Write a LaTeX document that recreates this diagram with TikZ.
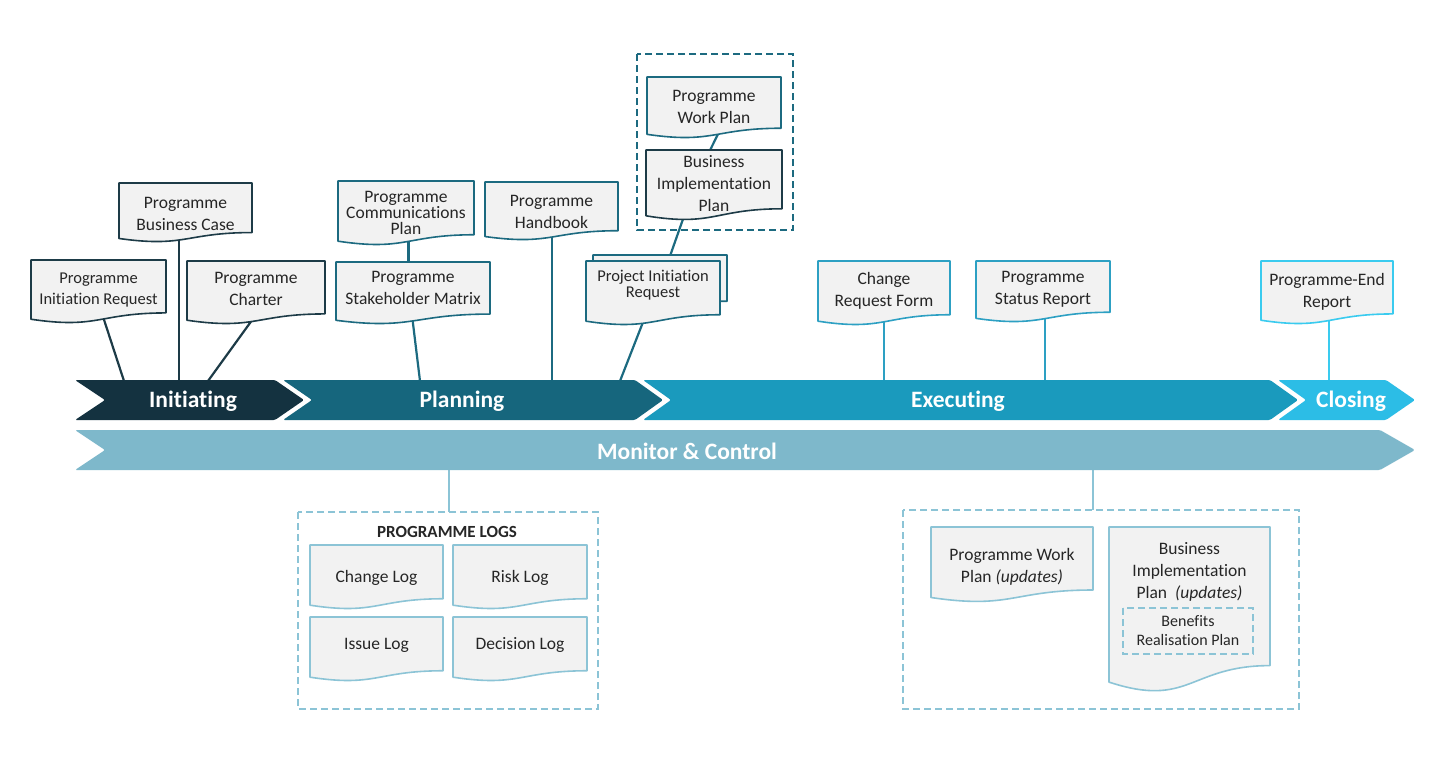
\documentclass[tikz,border=0pt]{standalone}
\usepackage{fontspec}
\setmainfont{Carlito}[Ligatures=NoCommon]
\usetikzlibrary{calc,fit}
\definecolor{cInit}{HTML}{143240}
\definecolor{cPlan}{HTML}{16667D}
\definecolor{cExec}{HTML}{1A9ABD}
\definecolor{cClose}{HTML}{2CBDE6}
\definecolor{cMon}{HTML}{7EB8CB}
\definecolor{cInitB}{HTML}{1D3B47}
\definecolor{cPlanB}{HTML}{1C6A80}
\definecolor{cExecB}{HTML}{2DA0C3}
\definecolor{cCloseB}{HTML}{3ACBEF}
\definecolor{cLogB}{HTML}{8CC4D6}
\definecolor{docfill}{HTML}{F2F2F2}
\definecolor{txt}{HTML}{262626}
\pgfdeclarelayer{bg}
\pgfdeclarelayer{lines}
\pgfsetlayers{bg,lines,main}
\tikzset{
  boxarea/.style={inner sep=0pt, outer sep=0pt},
  doctext/.style={align=center, inner sep=0pt, text=txt, font=\fontsize{17.5}{22}\selectfont},
  phase/.style={text=white, inner sep=0pt, font=\bfseries\fontsize{23.5}{26}\selectfont},
  chev/.style={rounded corners=1.5pt},
  conn/.style={line width=2.2pt},
  dbox/.style={dashed, line width=1.5pt, dash pattern=on 7pt off 4pt},
}
\newcommand\docshape[2]{%
  \filldraw[fill=docfill, draw=#2, line width=1.6pt, line join=round]
   (#1.north west) -- (#1.north east) -- ($(#1.north east)!0.84!(#1.south east)$)
   .. controls ($(#1.north)!0.84!(#1.south)$) and ($(#1.north)!1.10!(#1.south)$) ..
   ($(#1.north west)!0.94!(#1.south west)$) -- cycle;
}
% name, x0, y0, x1, y1, colour, text options, text
\newcommand\doc[8]{%
  \node[boxarea, fit={(#2,#3)(#4,#5)}] (#1) {};
  \docshape{#1}{#6}
  \node[doctext,#7] (#1-t) at ($(#1.north)!0.47!(#1.south)$) {#8};
}
\begin{document}
\begin{tikzpicture}[x=1pt,y=-1pt]
\begin{pgfonlayer}{bg}
  \fill[white] (0,0) rectangle (1453,761);
\end{pgfonlayer}
\useasboundingbox (0,0) rectangle (1453,761);

% phases
\fill[cInit,chev] (75,380) -- (275,380) -- (304,400) -- (275,420) -- (75,420) -- (105,400) -- cycle;
\fill[cPlan,chev] (283,380) -- (635,380) -- (663,400) -- (635,420) -- (283,420) -- (312,400) -- cycle;
\fill[cExec,chev] (643,380) -- (1270,380) -- (1298,400) -- (1270,420) -- (643,420) -- (671,400) -- cycle;
\fill[cClose,chev] (1278,380) -- (1386,380) -- (1415,400) -- (1386,420) -- (1278,420) -- (1306,400) -- cycle;
\fill[cMon,chev] (75,430) -- (1380,430) -- (1415,450) -- (1380,470) -- (75,470) -- (105,450) -- cycle;
\node[phase] (tInit) at (193,401) {Initiating};
\node[phase] (tPlan) at (462,401) {Planning};
\node[phase] (tExec) at (958,401) {Executing};
\node[phase] (tClose) at (1351,401) {Closing};
\node[phase] (tMon) at (687,451) {Monitor \& Control};

% bar coordinates
\coordinate (b1) at (124,381);
\coordinate (b2) at (179,381);
\coordinate (b3) at (208,381);
\coordinate (b4) at (420,381);
\coordinate (b5) at (552,381);
\coordinate (b6) at (620,381);
\coordinate (b7) at (884,381);
\coordinate (b8) at (1045,381);
\coordinate (b9) at (1329,381);
\coordinate (m1) at (449,465);
\coordinate (m2) at (1093,465);

% documents
\doc{ireq}{31}{260}{166}{323}{cInitB}{font=\fontsize{16.5}{21}\selectfont}{Programme\\Initiation Request}
\doc{bcase}{119}{183}{252}{242}{cInitB}{yshift=-3pt}{Programme\\Business Case}
\doc{charter}{187}{261}{325}{324}{cInitB}{yshift=2pt}{Programme\\Charter}
\doc{comms}{338}{181}{474}{245}{cPlanB}{font=\fontsize{17.5}{16}\selectfont, yshift=-2pt}{Programme\\Communications\\Plan}
\doc{stake}{336}{262}{490}{324}{cPlanB}{yshift=3pt}{Programme\\Stakeholder Matrix}
\doc{handbook}{485}{182}{618}{240}{cPlanB}{yshift=-3pt}{Programme\\Handbook}
\doc{pirb}{593}{255}{727}{310}{cPlanB}{}{}
\doc{pir}{586}{261}{720}{325}{cPlanB}{font=\fontsize{16.5}{16}\selectfont, yshift=6pt}{Project Initiation\\Request}
\node[boxarea, fit={(637,54)(793,230)}] (topbox) {};
\draw[cPlanB, dbox] (topbox.north west) rectangle (topbox.south east);
\doc{wplan}{647}{77}{781}{138}{cPlanB}{yshift=-1pt}{Programme\\Work Plan}
\doc{bip}{646}{150}{782}{220}{cInitB}{yshift=-0.5pt}{Business\\Implementation\\Plan}
\doc{creq}{818}{261}{950}{325}{cExecB}{}{Change\\Request Form}
\doc{status}{976}{261}{1110}{322}{cExecB}{}{Programme\\Status Report}
\doc{endrep}{1261}{261}{1393}{324}{cCloseB}{yshift=-1pt}{Programme-End\\Report}

% logs
\node[boxarea, fit={(298,512)(598,709)}] (logs) {};
\draw[cLogB, dbox] (logs.north west) rectangle (logs.south east);
\node[doctext, font=\bfseries\fontsize{17}{20}\selectfont] (logs-t) at (447,532) {PROGRAMME LOGS};
\doc{chlog}{310}{545}{443}{609}{cLogB}{yshift=-3pt}{Change Log}
\doc{risklog}{453}{545}{587}{609}{cLogB}{yshift=-3pt}{Risk Log}
\doc{issuelog}{310}{617}{443}{681}{cLogB}{yshift=2pt}{Issue Log}
\doc{declog}{453}{617}{587}{681}{cLogB}{yshift=2pt}{Decision Log}

% updates
\node[boxarea, fit={(903,510)(1299,709)}] (upd) {};
\draw[cLogB, dbox] (upd.north west) rectangle (upd.south east);
\doc{wpu}{931}{527}{1093}{602}{cLogB}{yshift=-5pt}{Programme Work\\Plan \textit{(updates)}}
\doc{bipu}{1109}{527}{1270}{692}{cLogB}{yshift=33pt}{Business\\Implementation\\Plan~~\textit{(updates)}}
\node[boxarea, fit={(1123,608)(1253,654)}] (ben) {};
\draw[cLogB, dbox] (ben.north west) rectangle (ben.south east);
\node[doctext, font=\fontsize{16}{19}\selectfont] (ben-t) at (ben.center) {Benefits\\Realisation Plan};

% connectors
\begin{pgfonlayer}{lines}
\draw[conn, cInitB] ([xshift=-3.7pt]ireq.center) -- (b1);
\draw[conn, cInitB] ([xshift=-6.5pt]bcase.center) -- (b2);
\draw[conn, cInitB] ([xshift=16pt]charter.center) -- (b3);
\draw[conn, cPlanB] ([xshift=2.5pt]comms.center) -- ([xshift=-4.5pt]stake.center);
\draw[conn, cPlanB] ([xshift=-3.7pt]stake.center) -- (b4);
\draw[conn, cPlanB] ([xshift=0.5pt]handbook.center) -- (b5);
\draw[conn, cPlanB] ([xshift=1.4pt]pir.center) -- (b6);
\draw[conn, cPlanB] ([xshift=-19pt]bip.center) -- ([xshift=4pt]pir.center);
\draw[conn, cPlanB] ([xshift=17pt]wplan.center) -- ([xshift=-21pt]bip.center);
\draw[conn, cExecB] (creq.center) -- (b7);
\draw[conn, cExecB] ([xshift=2pt]status.center) -- (b8);
\draw[conn, cCloseB] ([xshift=2pt]endrep.center) -- (b9);
\draw[conn, cLogB] (m1) -- (m1 |- logs.north);
\draw[conn, cLogB] (m2) -- (m2 |- upd.north);
\end{pgfonlayer}
\end{tikzpicture}
\end{document}
